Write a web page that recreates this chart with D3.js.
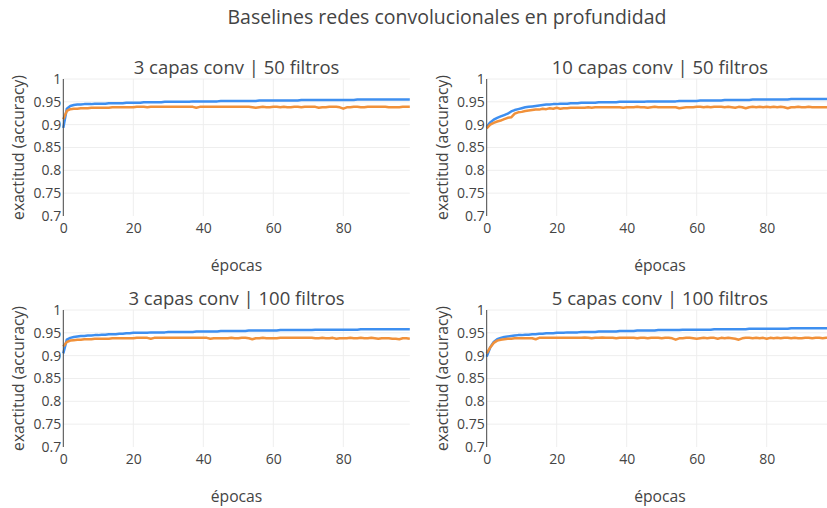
<!DOCTYPE html>
<html>
<head>
<meta charset="utf-8">
<script src="https://cdn.jsdelivr.net/npm/d3@7"></script>
<style>
  body { margin: 0; background: #fff; overflow: hidden; }
  text { font-family: "Open Sans", verdana, arial, sans-serif; fill: #444; }
</style>
</head>
<body>
<svg id="chart" width="827" height="508"></svg>
<script>
// data (epoch 0..99)
const panelTitles = ["3 capas conv | 50 filtros", "10 capas conv | 50 filtros",
                     "3 capas conv | 100 filtros", "5 capas conv | 100 filtros"];
const xTicks = [0, 20, 40, 60, 80];
const yTicks = [0.7, 0.75, 0.8, 0.85, 0.9, 0.95, 1];
const yTickLabels = ["0.7", "0.75", "0.8", "0.85", "0.9", "0.95", "1"];

const train3x50 = [
  .893,.935,.941,.943,.944,.944,.945,.945,.945,.946,
  .946,.946,.946,.947,.947,.947,.947,.947,.948,.948,
  .948,.948,.948,.949,.949,.949,.949,.949,.949,.950,
  .950,.950,.950,.950,.950,.950,.950,.951,.951,.951,
  .951,.951,.951,.951,.951,.952,.952,.952,.952,.952,
  .952,.952,.952,.952,.952,.952,.953,.953,.953,.953,
  .953,.953,.953,.953,.953,.953,.953,.953,.954,.954,
  .954,.954,.954,.954,.954,.954,.954,.954,.954,.954,
  .954,.954,.954,.954,.955,.955,.955,.955,.955,.955,
  .955,.955,.955,.955,.955,.955,.955,.955,.955,.955];
const val3x50 = [
  .912,.930,.934,.935,.935,.936,.936,.936,.937,.937,
  .937,.937,.937,.937,.938,.938,.938,.938,.938,.938,
  .938,.939,.939,.939,.938,.939,.939,.939,.939,.939,
  .939,.939,.939,.939,.939,.939,.939,.939,.937,.939,
  .939,.939,.939,.939,.939,.939,.939,.939,.939,.939,
  .939,.939,.939,.939,.938,.937,.938,.939,.938,.938,
  .939,.939,.938,.939,.938,.938,.939,.939,.938,.939,
  .939,.939,.939,.937,.938,.938,.939,.939,.939,.938,
  .935,.938,.938,.939,.939,.938,.938,.939,.939,.939,
  .939,.939,.939,.938,.938,.938,.938,.939,.939,.939];

const train10x50 = [
  .895,.905,.911,.915,.918,.921,.924,.929,.932,.934,
  .936,.938,.939,.940,.941,.942,.943,.944,.944,.945,
  .945,.946,.946,.946,.947,.947,.947,.948,.948,.948,
  .948,.948,.949,.949,.949,.949,.949,.949,.950,.950,
  .950,.950,.950,.950,.950,.950,.951,.951,.951,.951,
  .951,.951,.951,.951,.951,.952,.952,.952,.952,.952,
  .952,.953,.953,.953,.953,.953,.953,.953,.954,.954,
  .954,.954,.954,.954,.954,.954,.955,.955,.955,.955,
  .955,.955,.955,.955,.955,.955,.955,.956,.956,.956,
  .956,.956,.956,.956,.956,.956,.956,.956,.956,.956];
const val10x50 = [
  .892,.900,.904,.907,.909,.912,.915,.916,.924,.927,
  .928,.930,.931,.932,.933,.933,.935,.934,.936,.935,
  .937,.935,.936,.936,.937,.937,.937,.937,.937,.938,
  .937,.938,.938,.938,.938,.938,.938,.938,.938,.937,
  .938,.938,.938,.939,.938,.938,.937,.938,.939,.938,
  .938,.938,.938,.938,.938,.936,.937,.938,.938,.938,
  .939,.939,.938,.939,.938,.939,.939,.939,.938,.939,
  .938,.937,.939,.938,.936,.938,.939,.938,.939,.938,
  .939,.938,.939,.938,.939,.938,.936,.938,.938,.939,
  .938,.938,.939,.938,.938,.938,.938,.938,.939,.938];

const train3x100 = [
  .905,.935,.939,.941,.942,.943,.943,.944,.944,.945,
  .945,.946,.946,.947,.947,.947,.948,.948,.949,.949,
  .950,.950,.950,.950,.950,.951,.951,.951,.951,.951,
  .952,.952,.952,.952,.952,.952,.952,.952,.953,.953,
  .953,.953,.953,.953,.953,.954,.954,.954,.954,.954,
  .954,.954,.954,.955,.955,.955,.955,.955,.955,.955,
  .955,.955,.956,.956,.956,.956,.956,.956,.956,.956,
  .956,.956,.957,.957,.957,.957,.957,.957,.957,.957,
  .957,.957,.957,.957,.957,.958,.958,.958,.958,.958,
  .958,.958,.958,.958,.958,.958,.958,.958,.958,.958];
const val3x100 = [
  .920,.930,.933,.934,.935,.935,.936,.936,.936,.937,
  .937,.937,.937,.937,.938,.938,.938,.938,.938,.938,
  .938,.939,.939,.939,.939,.937,.939,.939,.939,.939,
  .939,.939,.939,.939,.939,.939,.939,.939,.939,.939,
  .939,.939,.937,.938,.938,.938,.938,.938,.939,.938,
  .938,.939,.939,.938,.936,.938,.938,.939,.938,.938,
  .938,.938,.939,.939,.939,.939,.939,.939,.939,.939,
  .939,.939,.938,.938,.939,.938,.938,.939,.937,.938,
  .938,.938,.939,.938,.938,.939,.938,.938,.939,.938,
  .937,.938,.938,.938,.937,.937,.936,.938,.938,.937];

const train5x100 = [
  .898,.918,.930,.936,.939,.941,.942,.943,.944,.945,
  .945,.946,.946,.947,.947,.948,.948,.949,.949,.949,
  .950,.950,.950,.951,.951,.951,.951,.952,.952,.952,
  .952,.952,.953,.953,.953,.953,.953,.953,.954,.954,
  .954,.954,.954,.955,.955,.955,.955,.955,.955,.956,
  .956,.956,.956,.956,.956,.956,.957,.957,.957,.957,
  .957,.957,.957,.957,.957,.958,.958,.958,.958,.958,
  .958,.958,.958,.958,.958,.959,.959,.959,.959,.959,
  .959,.959,.959,.959,.959,.959,.959,.960,.960,.960,
  .960,.960,.960,.960,.960,.960,.960,.960,.960,.960];
const val5x100 = [
  .905,.918,.928,.933,.935,.936,.937,.937,.938,.938,
  .938,.938,.938,.938,.936,.939,.939,.939,.939,.939,
  .939,.939,.939,.939,.939,.939,.939,.939,.940,.939,
  .938,.939,.939,.940,.939,.939,.939,.938,.939,.939,
  .939,.939,.939,.938,.939,.939,.938,.939,.939,.939,
  .938,.939,.939,.938,.935,.938,.938,.939,.939,.938,
  .937,.938,.939,.938,.939,.939,.937,.939,.938,.939,
  .938,.937,.935,.938,.939,.939,.938,.939,.938,.939,
  .937,.939,.938,.939,.938,.939,.939,.938,.939,.938,
  .938,.939,.939,.938,.939,.939,.938,.939,.939,.939];

const trainSeries = [train3x50, train10x50, train3x100, train5x100];
const valSeries = [val3x50, val10x50, val3x100, val5x100];

const blue = "#3e8ff0";
const orange = "#f1913a";

const svg = d3.select("#chart");

svg.append("text")
  .attr("x", 447).attr("y", 24)
  .attr("text-anchor", "middle")
  .style("font-size", "19.5px")
  .text("Baselines redes convolucionales en profundidad");

const panelW = 346.5, panelH = 137;
const origins = [[63.3, 79], [486.7, 79], [63.3, 310], [486.7, 310]];

origins.forEach(([ox, oy], i) => {
  const x = d3.scaleLinear().domain([0, 99]).range([ox, ox + panelW]);
  const y = d3.scaleLinear().domain([0.7, 1]).range([oy + panelH, oy]);
  const g = svg.append("g");

  // grid
  g.append("g").selectAll("line").data(xTicks.filter(d => d > 0)).join("line")
    .attr("x1", d => x(d)).attr("x2", d => x(d))
    .attr("y1", oy).attr("y2", oy + panelH)
    .attr("stroke", "#eee").attr("stroke-width", 1);
  g.append("g").selectAll("line").data(yTicks.filter(d => d > 0.7)).join("line")
    .attr("x1", ox).attr("x2", ox + panelW)
    .attr("y1", d => y(d)).attr("y2", d => y(d))
    .attr("stroke", "#eee").attr("stroke-width", 1);

  // axes
  const xAxis = g.append("g")
    .attr("transform", `translate(0,${oy + panelH})`)
    .call(d3.axisBottom(x).tickValues(xTicks).tickSize(0).tickPadding(7));
  xAxis.select(".domain").remove();
  xAxis.selectAll("text").style("font-size", "14px").attr("fill", "#444");

  const yAxis = g.append("g")
    .attr("transform", `translate(${ox},0)`)
    .call(d3.axisLeft(y).tickValues(yTicks).tickSize(0).tickPadding(2)
      .tickFormat((d, j) => yTickLabels[j]));
  yAxis.select(".domain").remove();
  yAxis.selectAll("text").style("font-size", "14px").attr("fill", "#444");

  // lines
  const line = d3.line().x((d, j) => x(j)).y(d => y(d));
  g.append("path").datum(trainSeries[i])
    .attr("d", line).attr("fill", "none")
    .attr("stroke", blue).attr("stroke-width", 2.5).attr("stroke-linejoin", "round");
  g.append("path").datum(valSeries[i])
    .attr("d", line).attr("fill", "none")
    .attr("stroke", orange).attr("stroke-width", 2.5).attr("stroke-linejoin", "round");

  // y axis line
  g.append("line")
    .attr("x1", ox).attr("x2", ox)
    .attr("y1", oy).attr("y2", oy + panelH)
    .attr("stroke", "#444").attr("stroke-width", 1);

  // titles
  g.append("text")
    .attr("x", ox + panelW / 2).attr("y", oy - 5)
    .attr("text-anchor", "middle")
    .style("font-size", "18.5px")
    .text(panelTitles[i]);

  g.append("text")
    .attr("x", ox + panelW / 2).attr("y", oy + panelH + 55)
    .attr("text-anchor", "middle")
    .style("font-size", "15.7px")
    .text("épocas");

  g.append("text")
    .attr("transform", `translate(${ox - 39},${oy + panelH / 2}) rotate(-90)`)
    .attr("text-anchor", "middle")
    .style("font-size", "15.7px")
    .text("exactitud (accuracy)");
});
</script>
</body>
</html>
